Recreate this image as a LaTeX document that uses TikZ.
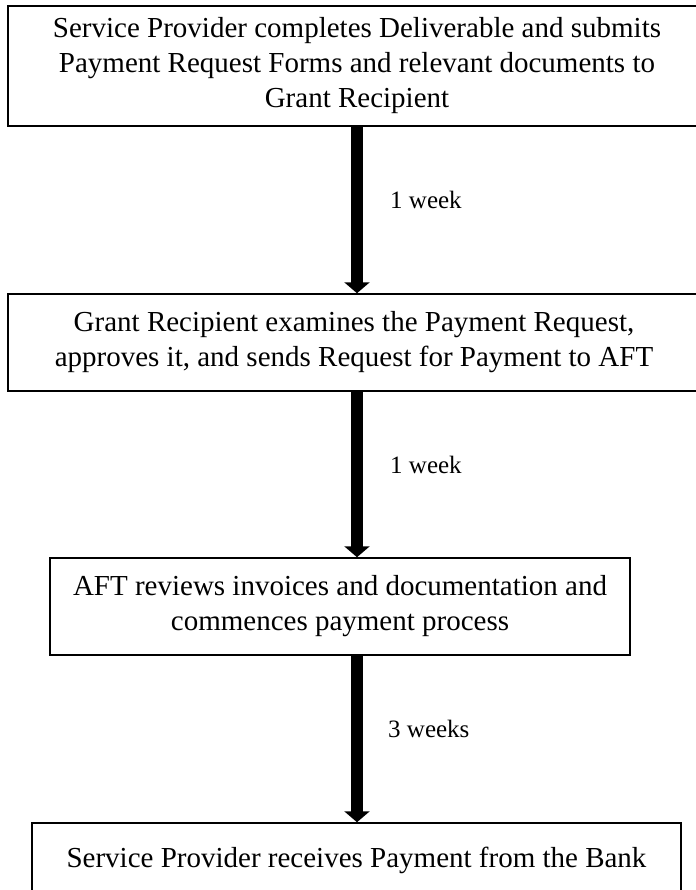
\documentclass[tikz,border=0pt]{standalone}
\usepackage{fontspec}
\setmainfont{Liberation Serif}
\usetikzlibrary{arrows.meta}
\tikzset{
  stepbox/.style={draw=black, line width=1.5bp, inner sep=0pt, align=center,
    font={\fontsize{29bp}{35bp}\selectfont}},
  flowarrow/.style={line width=12bp, -{Triangle[width=25bp,length=11bp]}},
  lbl/.style={anchor=west, inner sep=0pt, font={\fontsize{25bp}{30bp}\selectfont}}
}
\begin{document}
\begin{tikzpicture}[x=1bp,y=-1bp]
\clip (0,0) rectangle (696,890);
\fill[white] (0,0) rectangle (696,890);
\node[stepbox, minimum width=698bp, minimum height=120bp] (b1) at (357,66)
  {Service Provider completes Deliverable and submits\\Payment Request Forms and relevant documents to\\Grant Recipient};
\node[stepbox, minimum width=692bp, minimum height=97bp] (b2) at (354,342.5)
  {Grant Recipient examines the Payment Request,\\approves it, and sends Request for Payment to AFT};
\node[stepbox, minimum width=580bp, minimum height=97bp] (b3) at (340,606.5)
  {AFT reviews invoices and documentation and\\commences payment process};
\node[stepbox, minimum width=649bp, minimum height=74bp] (b4) at (356.5,860)
  {Service Provider receives Payment from the Bank};
\coordinate (ax) at (357,0);
\draw[flowarrow] (b1.south -| ax) -- (b2.north -| ax);
\draw[flowarrow] (b2.south -| ax) -- (b3.north -| ax);
\draw[flowarrow] (b3.south -| ax) -- (b4.north -| ax);
\node[lbl] (l1) at (390,200) {1 week};
\node[lbl] (l2) at (390,465) {1 week};
\node[lbl] (l3) at (388,729) {3 weeks};
\end{tikzpicture}
\end{document}
